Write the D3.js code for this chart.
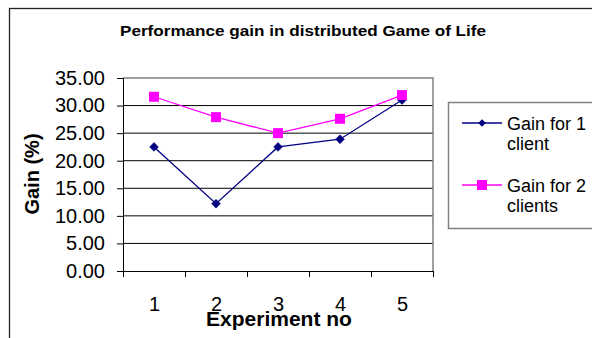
<!DOCTYPE html>
<html><head><meta charset="utf-8">
<script src="https://cdn.jsdelivr.net/npm/d3@7"></script>
<style>
body{margin:0;background:#fff;}
svg{display:block;font-family:"Liberation Sans",Arial,sans-serif;}
</style></head>
<body>
<script>
const categories = [1, 2, 3, 4, 5];
const gain1 = [22.5, 12.2, 22.5, 23.9, 31.0];
const gain2 = [31.6, 27.9, 25.0, 27.6, 31.9];
const yTicks = [0, 5, 10, 15, 20, 25, 30, 35];
const seriesNames = ["Gain for 1 client", "Gain for 2 clients"];
const title = "Performance gain in distributed Game of Life";

(function () {
const W = 592, H = 338;
const svg = d3.select("body").append("svg").attr("width", W).attr("height", H);

// outer chart border
svg.append("rect").attr("x", 9.5).attr("y", 8.5).attr("width", 700).attr("height", 400)
  .attr("fill", "none").attr("stroke", "#222").attr("stroke-width", 1.3);

const pL = 123, pR = 433, pT = 78, pB = 271;
const x = d3.scaleLinear().domain([0.5, 5.5]).range([pL, pR]);
const y = d3.scaleLinear().domain([0, 35]).range([pB, pT]);

// gridlines
svg.append("g").selectAll("line").data(yTicks.filter(d => d > 0 && d < 35)).join("line")
  .attr("x1", pL).attr("x2", pR).attr("y1", d => y(d)).attr("y2", d => y(d))
  .attr("stroke", "#000").attr("stroke-width", 1);

// plot border top/right
svg.append("path").attr("d", `M${pL},${y(35)}H${pR}V${pB}`)
  .attr("fill", "none").attr("stroke", "#808080").attr("stroke-width", 1.5);

// y axis
const yAxis = svg.append("g").attr("transform", `translate(${pL},0)`)
  .call(d3.axisLeft(y).tickValues(yTicks).tickFormat(d3.format(".2f")).tickSize(6).tickPadding(12));
yAxis.select(".domain").attr("stroke", "#000");
yAxis.selectAll("text").attr("font-size", 20).attr("font-family", "Liberation Sans, Arial, sans-serif").attr("fill", "#000");

// x axis ticks at boundaries
const xAxis = svg.append("g").attr("transform", `translate(0,${pB})`)
  .call(d3.axisBottom(x).tickValues([0.5,1.5,2.5,3.5,4.5,5.5]).tickFormat("").tickSize(6).tickSizeOuter(0));
xAxis.select(".domain").attr("stroke", "#000");
// x labels
const xLab = svg.append("g").attr("transform", `translate(0,${pB})`)
  .call(d3.axisBottom(x).tickValues(categories).tickFormat(d3.format("d")).tickSize(0).tickPadding(26));
xLab.select(".domain").remove();
xLab.selectAll("text").attr("font-size", 20).attr("font-family", "Liberation Sans, Arial, sans-serif").attr("fill", "#000");

// axis titles
svg.append("text").attr("x", 279).attr("y", 326).attr("text-anchor", "middle")
  .attr("font-weight", "bold").attr("font-size", 21).text("Experiment no");
svg.append("text").attr("transform", "translate(39,174) rotate(-90)").attr("text-anchor", "middle")
  .attr("font-weight", "bold").attr("font-size", 20).text("Gain (%)");

// title
svg.append("text").attr("x", 303).attr("y", 35.5).attr("text-anchor", "middle")
  .attr("font-weight", "bold").attr("font-size", 15)
  .attr("textLength", 366).attr("lengthAdjust", "spacingAndGlyphs").text(title);

// lines
const line = d3.line().x((d, i) => x(categories[i])).y(d => y(d));
const colors = ["#000080", "#FF00FF"];
const series = [gain1, gain2];
series.forEach((s, k) => {
  svg.append("path").attr("d", line(s)).attr("fill", "none").attr("stroke", colors[k]).attr("stroke-width", 1.3);
});
svg.append("g").selectAll("path").data(gain1).join("path")
  .attr("d", d3.symbol().type(d3.symbolSquare2).size(50))
  .attr("transform", (d, i) => `translate(${x(categories[i])},${y(d)}) rotate(45)`)
  .attr("fill", colors[0]).attr("stroke", colors[0]).attr("stroke-width", 0.5);
svg.append("g").selectAll("rect").data(gain2).join("rect")
  .attr("x", (d, i) => x(categories[i]) - 5).attr("y", d => y(d) - 5)
  .attr("width", 10).attr("height", 10).attr("fill", colors[1]);

// legend
svg.append("rect").attr("x", 448.5).attr("y", 102.5).attr("width", 200).attr("height", 126)
  .attr("fill", "#fff").attr("stroke", "#808080").attr("stroke-width", 1.5);
const legY = [123, 185];
const legLines = [["Gain for 1", "client"], ["Gain for 2", "clients"]];
legY.forEach((ly, k) => {
  svg.append("line").attr("x1", 462).attr("x2", 502).attr("y1", ly).attr("y2", ly)
    .attr("stroke", colors[k]).attr("stroke-width", 1.3);
  if (k === 0) {
    svg.append("path").attr("d", d3.symbol().type(d3.symbolSquare2).size(36)())
      .attr("transform", `translate(482,${ly}) rotate(45)`).attr("fill", colors[0]);
  } else {
    svg.append("rect").attr("x", 477).attr("y", ly - 5).attr("width", 10).attr("height", 10).attr("fill", colors[1]);
  }
  const t = svg.append("text").attr("x", 507).attr("y", ly + 6.5).attr("font-size", 18);
  legLines[k].forEach((s, j) => t.append("tspan").attr("x", 507).attr("dy", j === 0 ? 0 : 20).text(s));
});
})();
</script>
</body></html>
